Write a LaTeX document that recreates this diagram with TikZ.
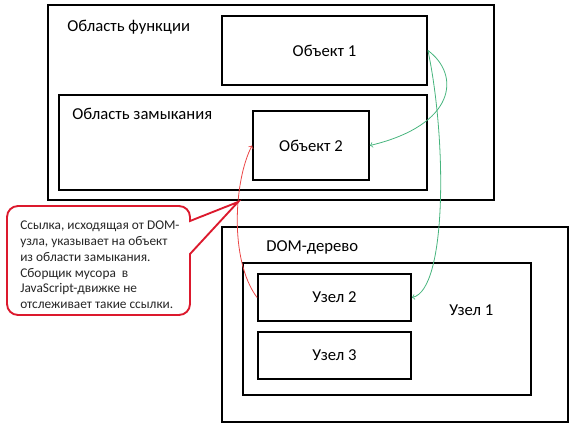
\documentclass[tikz,border=0pt]{standalone}
\usepackage{fontspec}
\setmainfont{Carlito}
\definecolor{linkgreen}{RGB}{70,180,125}
\definecolor{linkred}{RGB}{235,70,70}
\definecolor{notered}{RGB}{220,25,45}
\tikzset{
	area/.style 2 args={draw,line width=1.4pt,minimum width=#1*0.75pt,minimum height=#2*0.75pt,inner sep=0pt,font=\fontsize{12.5}{14}\selectfont},
	caption/.style={anchor=base west,inner sep=0pt,font=\fontsize{12.5}{14}\selectfont},
	ref/.style={line width=0.6pt,->},
	callout/.style={draw=notered,line width=1.4pt,fill=white}
}
\begin{document}
\begin{tikzpicture}[x=0.75pt,y=-0.75pt]
	\useasboundingbox (0,0) rectangle (577,427);
	\node[area={446}{195}] (func) at (271,102.5) {};
	\node[area={205}{69}] (obj1) at (324.5,50.5) {Объект 1};
	\node[area={368}{95}] (closure) at (243,142.5) {};
	\node[area={116}{69}] (obj2) at (311,145.5) {Объект 2};
	\node[caption] (funclabel) at (67,31.5) {Область функции};
	\node[caption] (closurelabel) at (72,120) {Область замыкания};
	\node[area={346}{195}] (dom) at (395,324.5) {};
	\node[area={288}{132}] (node1) at (387,329) {};
	\node[area={153}{47}] (node2) at (334.5,297.5) {Узел 2};
	\node[area={153}{47}] (node3) at (334.5,355.5) {Узел 3};
	\node[caption] (domlabel) at (266,251.5) {DOM-дерево};
	\node[caption] (node1label) at (449,315) {Узел 1};
	\path[ref,linkgreen]
	(obj1.east) edge [controls={+(33,24.5) and +(86,-20.5)}] (obj2.east)
	(obj1.east) edge [controls={+(19,89.5) and +(35,-7.5)}] (node2.east);
	\path[ref,linkred]
	(node2.west) edge [controls={+(-28,-37.5) and +(-18,34.5)}] (obj2.west);
	\coordinate (tip) at (238,202);
	\draw[callout] (190,254) [rounded corners=11*0.75pt] -- (190,315) -- (7,315) -- (7,206) -- (190,206) [sharp corners] -- (190,221) -- (tip) -- cycle;
	\node[anchor=west,inner sep=0pt,align=left,text=black!85,font=\fontsize{10}{11.85}\selectfont] (note) at (20,265) {Ссылка, исходящая от DOM-\\узла, указывает на объект\\из области замыкания.\\Сборщик мусора\ \ в\\JavaScript-движке не\\отслеживает такие ссылки.};
\end{tikzpicture}
\end{document}
